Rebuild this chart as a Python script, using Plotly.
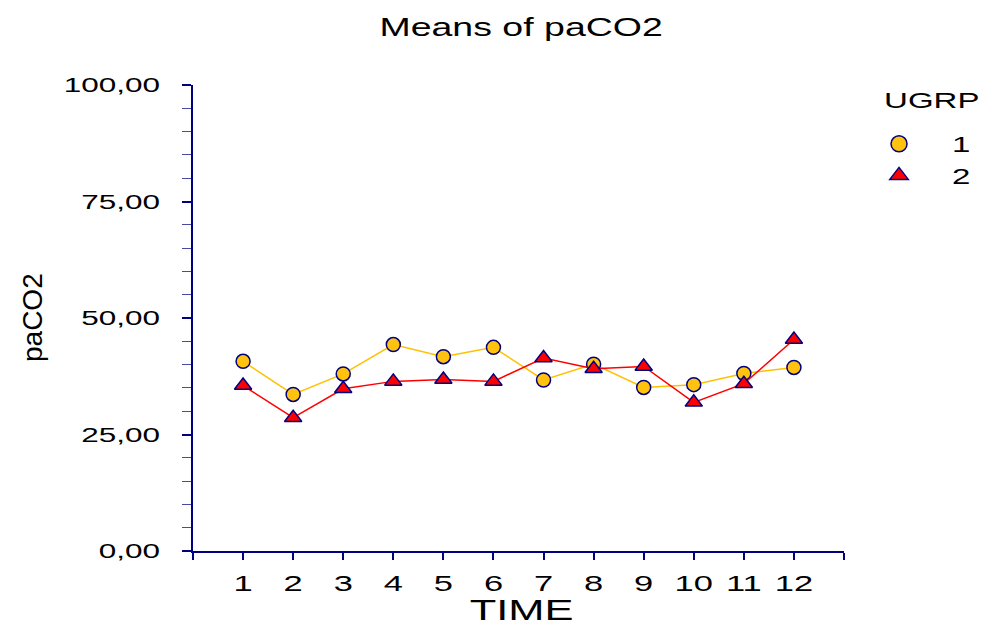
import plotly.graph_objects as go

# Mean paCO2 per time point for each UGRP group
time = [1, 2, 3, 4, 5, 6, 7, 8, 9, 10, 11, 12]
ugrp1 = [40.7, 33.6, 38.0, 44.3, 41.7, 43.7, 36.7, 40.1, 35.1, 35.7, 38.1, 39.4]
ugrp2 = [35.5, 28.6, 34.8, 36.4, 36.8, 36.4, 41.4, 39.1, 39.6, 31.9, 35.9, 45.4]

y_ticks = [0, 25, 50, 75, 100]
x_ticks = list(range(0, 14))
x_labels = [""] + [str(t) for t in time] + [""]

NAVY = "#000080"
FONT = "Liberation Sans, Arial, sans-serif"

m1 = dict(symbol="circle", size=14, color="#FFC20E", line=dict(color=NAVY, width=1.5))
m2 = dict(symbol="triangle-up", size=15, color="#FF0000", line=dict(color=NAVY, width=1.5))

fig = go.Figure()
fig.add_trace(go.Scatter(
    x=time, y=ugrp1, name="1", mode="lines+markers", showlegend=False,
    line=dict(color="#FFC000", width=1.5), marker=m1,
))
fig.add_trace(go.Scatter(
    x=time, y=ugrp2, name="2", mode="lines+markers", showlegend=False,
    line=dict(color="#FF0000", width=1.5), marker=m2,
))
# legend entries show the symbol only
fig.add_trace(go.Scatter(x=[None], y=[None], name="1", mode="markers",
                         marker={**m1, "size": 16}))
fig.add_trace(go.Scatter(x=[None], y=[None], name="2", mode="markers",
                         marker={**m2, "size": 17}))

fig.update_layout(
    width=987, height=628,
    margin=dict(l=193, r=143, t=85, b=77),
    paper_bgcolor="white", plot_bgcolor="white",
    separators=",.",
    font=dict(family=FONT, color="black", size=22),
    title=dict(text="Means of paCO2", x=0.528, xref="container", xanchor="center",
               y=0.957, yref="container", yanchor="middle",
               font=dict(size=25, color="black", family=FONT)),
    xaxis=dict(range=[0, 13], tickmode="array", tickvals=x_ticks, ticktext=x_labels,
               showgrid=False, zeroline=False, showline=True, linecolor=NAVY, linewidth=1.5,
               ticks="outside", ticklen=7, tickwidth=1.5, tickcolor=NAVY,
               ticklabelstandoff=4, tickfont=dict(size=23)),
    yaxis=dict(range=[0, 100], tickmode="array", tickvals=y_ticks, tickformat=".2f",
               showgrid=False, zeroline=False, showline=True, linecolor=NAVY, linewidth=1.5,
               ticks="outside", ticklen=9, tickwidth=1.5, tickcolor=NAVY,
               ticklabelstandoff=18, tickfont=dict(size=21),
               minor=dict(dtick=5, ticks="outside", ticklen=9, tickwidth=1.2,
                          tickcolor="#4a4aa0")),
    legend=dict(x=1.0538, y=0.9185, xanchor="left", yanchor="top",
                font=dict(size=22), itemwidth=30, tracegroupgap=0,
                bgcolor="rgba(0,0,0,0)"),
    annotations=[
        dict(text="UGRP", xref="paper", yref="paper", x=1.1352, y=0.9678,
             xanchor="center", yanchor="middle", showarrow=False, font=dict(size=22)),
        dict(text="paCO2", xref="paper", yref="paper", x=-0.2473, y=0.5,
             xanchor="center", yanchor="middle",
             textangle=-90, showarrow=False, font=dict(size=28)),
        dict(text="TIME", xref="paper", yref="paper", x=0.505, y=-0.1266,
             yanchor="middle", showarrow=False, font=dict(size=29)),
    ],
)

# The chart's lettering is wide: stretch the horizontal labels about their anchors
post = """
var S = 1.5;
function stretch(el, dx) {
  var x = parseFloat(el.getAttribute('x') || '0') + dx;
  if (dx) { el.setAttribute('x', x); }
  var t = el.getAttribute('transform') || '';
  el.setAttribute('transform', t + ' translate(' + x + ',0) scale(' + S + ',1) translate(' + (-x) + ',0)');
}
document.querySelectorAll('.xtick text, .ytick text, .gtitle').forEach(function (el) { stretch(el, 0); });
document.querySelectorAll('.annotation-text').forEach(function (el) {
  if (el.textContent !== 'paCO2') { stretch(el, 0); }
});
document.querySelectorAll('.legendtext').forEach(function (el) { stretch(el, 33); });
document.querySelectorAll('.legend [clip-path]').forEach(function (el) { el.removeAttribute('clip-path'); });
"""

fig.write_html("out.html", post_script=post)
